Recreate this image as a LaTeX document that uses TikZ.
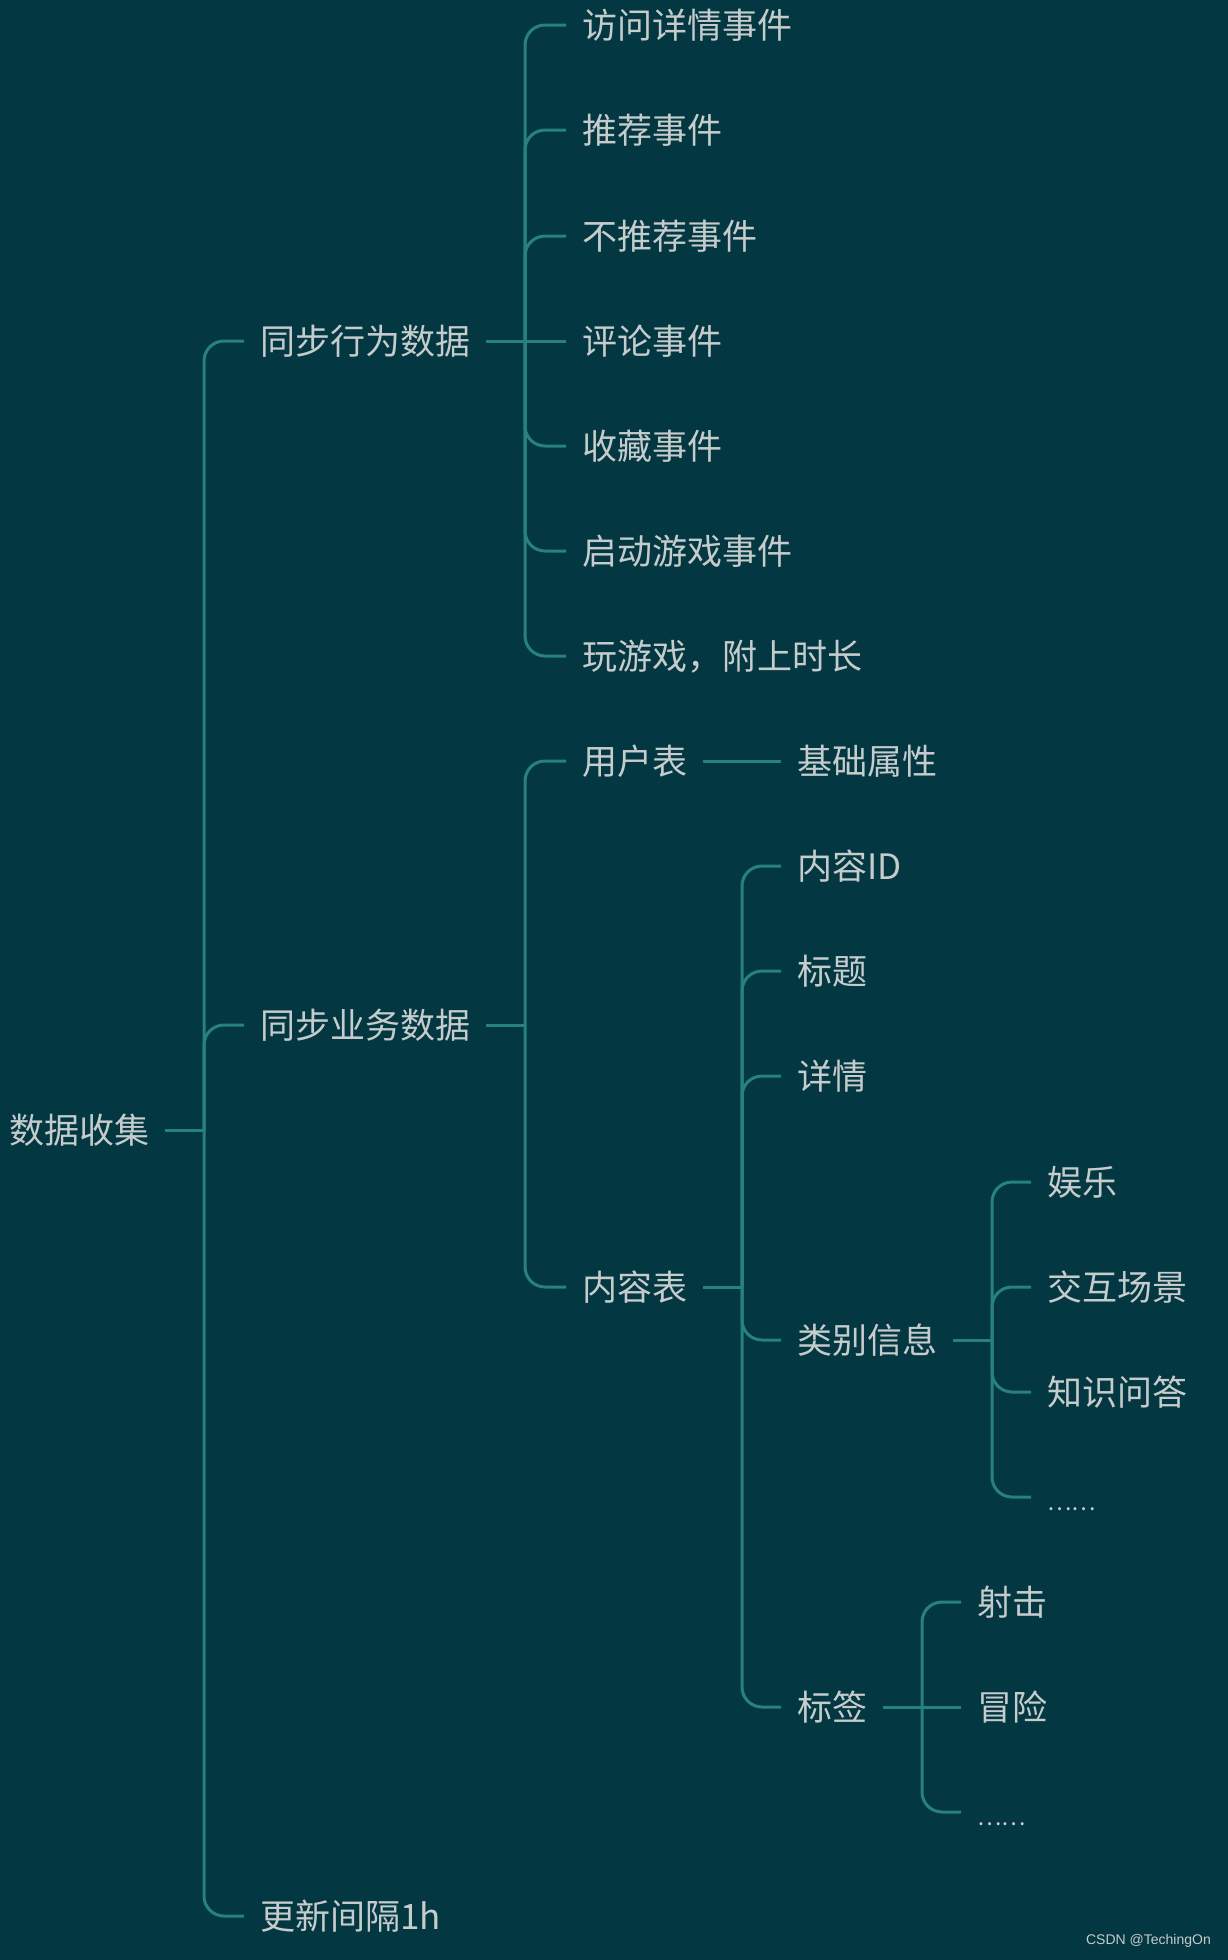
\documentclass[tikz,border=0pt]{standalone}
\usepackage{fontspec}
\setmainfont{Noto Sans CJK SC}
\newfontfamily\wmfont{Liberation Sans}
\definecolor{bgc}{RGB}{3,55,66}
\definecolor{lnc}{RGB}{40,130,124}
\definecolor{txc}{RGB}{198,204,203}
\begin{document}
\begin{tikzpicture}[x=1pt,y=-1pt,
  t/.style={anchor=west, text=txc, font=\fontsize{35}{42}\selectfont, inner xsep=16pt, inner ysep=0pt, text height=31pt, text depth=4pt},
  dots/.style={t, font=\fontsize{23}{28}\selectfont},
  ln/.style={draw=lnc, line width=3pt, rounded corners=20pt}]
\fill[bgc] (0,0) rectangle (1228,1960);
\useasboundingbox (0,0) rectangle (1228,1960);
% root
\node[t] (root) at (-7,1130) {数据收集};
% level 1
\node[t] (s1) at (244,341) {同步行为数据};
\node[t] (s2) at (244,1025) {同步业务数据};
\node[t] (s3) at (244,1916) {更新间隔1h};
% children of s1
\node[t] (a1) at (566,25) {访问详情事件};
\node[t] (a2) at (566,130) {推荐事件};
\node[t] (a3) at (566,236) {不推荐事件};
\node[t] (a4) at (566,341) {评论事件};
\node[t] (a5) at (566,446) {收藏事件};
\node[t] (a6) at (566,551) {启动游戏事件};
\node[t] (a7) at (566,656) {玩游戏，附上时长};
% children of s2
\node[t] (u1) at (566,761) {用户表};
\node[t] (u2) at (566,1287) {内容表};
\node[t] (u11) at (781,761) {基础属性};
% children of u2
\node[t] (c1) at (781,866) {内容ID};
\node[t] (c2) at (781,971) {标题};
\node[t] (c3) at (781,1076) {详情};
\node[t] (c4) at (781,1340) {类别信息};
\node[t] (c5) at (781,1707) {标签};
% children of c4
\node[t] (d1) at (1031,1182) {娱乐};
\node[t] (d2) at (1031,1287) {交互场景};
\node[t] (d3) at (1031,1392) {知识问答};
\node[dots] (d4) at (1031,1497) {……};
% children of c5
\node[t] (e1) at (961,1602) {射击};
\node[t] (e2) at (961,1707) {冒险};
\node[dots] (e3) at (961,1812) {……};
% watermark
\node[anchor=east, text=txc, font=\wmfont\fontsize{14}{16}\selectfont, inner sep=0pt] (wm) at (1211,1941) {CSDN @TechingOn};
% bus coordinates
\coordinate (b1) at (204,1130);
\coordinate (b2) at (525,341);
\coordinate (b3) at (525,1025);
\coordinate (b4) at (742,1287);
\coordinate (b5) at (992,1340);
\coordinate (b6) at (922,1707);
% connectors
\draw[ln] (root.east) -- (b1);
\draw[ln] (b1) |- (s1.west);
\draw[ln] (b1) |- (s2.west);
\draw[ln] (b1) |- (s3.west);
\draw[ln] (s1.east) -- (b2);
\foreach \n in {a1,a2,a3,a5,a6,a7} \draw[ln] (b2) |- (\n.west);
\draw[ln] (b2) -- (a4.west);
\draw[ln] (s2.east) -- (b3);
\draw[ln] (b3) |- (u1.west);
\draw[ln] (b3) |- (u2.west);
\draw[ln] (u1.east) -- (u11.west);
\draw[ln] (u2.east) -- (b4);
\foreach \n in {c1,c2,c3,c4,c5} \draw[ln] (b4) |- (\n.west);
\draw[ln] (c4.east) -- (b5);
\foreach \n in {d1,d2,d3,d4} \draw[ln] (b5) |- (\n.west);
\draw[ln] (c5.east) -- (b6);
\draw[ln] (b6) |- (e1.west);
\draw[ln] (b6) -- (e2.west);
\draw[ln] (b6) |- (e3.west);
\end{tikzpicture}
\end{document}
